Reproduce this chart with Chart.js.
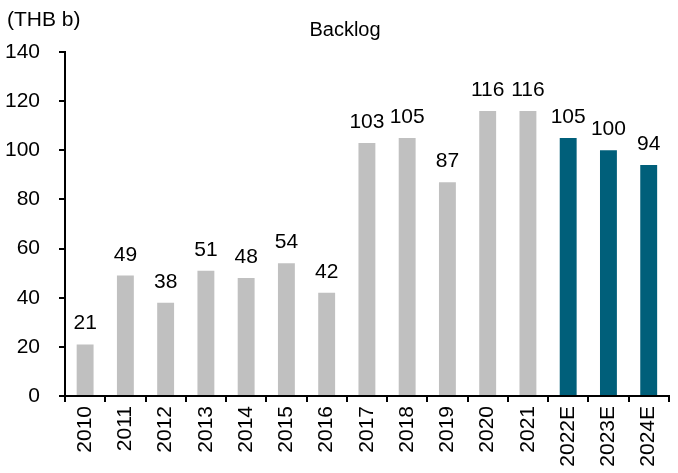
<!DOCTYPE html>
<html>
<head>
<meta charset="utf-8">
<script src="https://cdn.jsdelivr.net/npm/chart.js@4.4.1/dist/chart.umd.min.js"></script>
<style>
  html, body { margin: 0; padding: 0; background: #fff; }
  #wrap { position: relative; width: 678px; height: 473px; }
</style>
</head>
<body>
<div id="wrap"><canvas id="backlog"></canvas></div>
<script>
const years = ['2010', '2011', '2012', '2013', '2014', '2015', '2016', '2017', '2018', '2019', '2020', '2021', '2022E', '2023E', '2024E'];
const backlog = [21, 49, 38, 51, 48, 54, 42, 103, 105, 87, 116, 116, 105, 100, 94];
const forecastFrom = 12; // index of first estimate year
const yTicks = [0, 20, 40, 60, 80, 100, 120, 140];

const GREY = '#c0c0c0';
const TEAL = '#005f7a';
const FONT = "'Liberation Sans', Arial, sans-serif";

const barColors = backlog.map((_, i) => (i >= forecastFrom ? TEAL : GREY));

// value labels above bars + the unit and heading texts
const labelsPlugin = {
    id: 'barLabels',
    afterDatasetsDraw(chart) {
        const { ctx } = chart;
        const meta = chart.getDatasetMeta(0);
        ctx.save();
        ctx.fillStyle = '#000';
        ctx.font = `21px ${FONT}`;
        ctx.textAlign = 'center';
        ctx.textBaseline = 'alphabetic';
        meta.data.forEach((bar, i) => {
            ctx.fillText(String(backlog[i]), bar.x, bar.y - 15);
        });
        ctx.textAlign = 'left';
        ctx.fillText('(THB b)', 7, 26);
        ctx.font = `20px ${FONT}`;
        ctx.textAlign = 'center';
        ctx.fillText('Backlog', 345, 36);
        ctx.restore();
    },
};

new Chart(document.getElementById('backlog').getContext('2d'), {
    type: 'bar',
    plugins: [labelsPlugin],
    data: {
        labels: years,
        datasets: [{
            data: backlog,
            backgroundColor: barColors,
            borderWidth: 0,
            categoryPercentage: 1,
            barPercentage: 0.42,
        }],
    },
    options: {
        responsive: true,
        maintainAspectRatio: false,
        animation: false,
        layout: { padding: { top: 52, right: 3, left: 0, bottom: 0 } },
        plugins: {
            legend: { display: false },
            tooltip: { enabled: false },
        },
        scales: {
            y: {
                min: 0,
                max: 140,
                afterBuildTicks: (axis) => { axis.ticks = yTicks.map((v) => ({ value: v })); },
                afterFit: (axis) => { axis.width = 65; },
                border: { display: true, color: '#000', width: 2 },
                grid: { drawOnChartArea: false, drawTicks: true, tickLength: 6, color: '#000', lineWidth: 2 },
                ticks: { color: '#000', padding: 19, font: { family: FONT, size: 21 } },
            },
            x: {
                afterFit: (axis) => { axis.height = 77; },
                border: { display: true, color: '#000', width: 2 },
                grid: { offset: true, drawOnChartArea: false, drawTicks: true, tickLength: 6, color: '#000', lineWidth: 2 },
                ticks: {
                    color: '#000',
                    padding: 4,
                    minRotation: 90,
                    maxRotation: 90,
                    autoSkip: false,
                    font: { family: FONT, size: 21 },
                },
            },
        },
    },
});
</script>
</body>
</html>
